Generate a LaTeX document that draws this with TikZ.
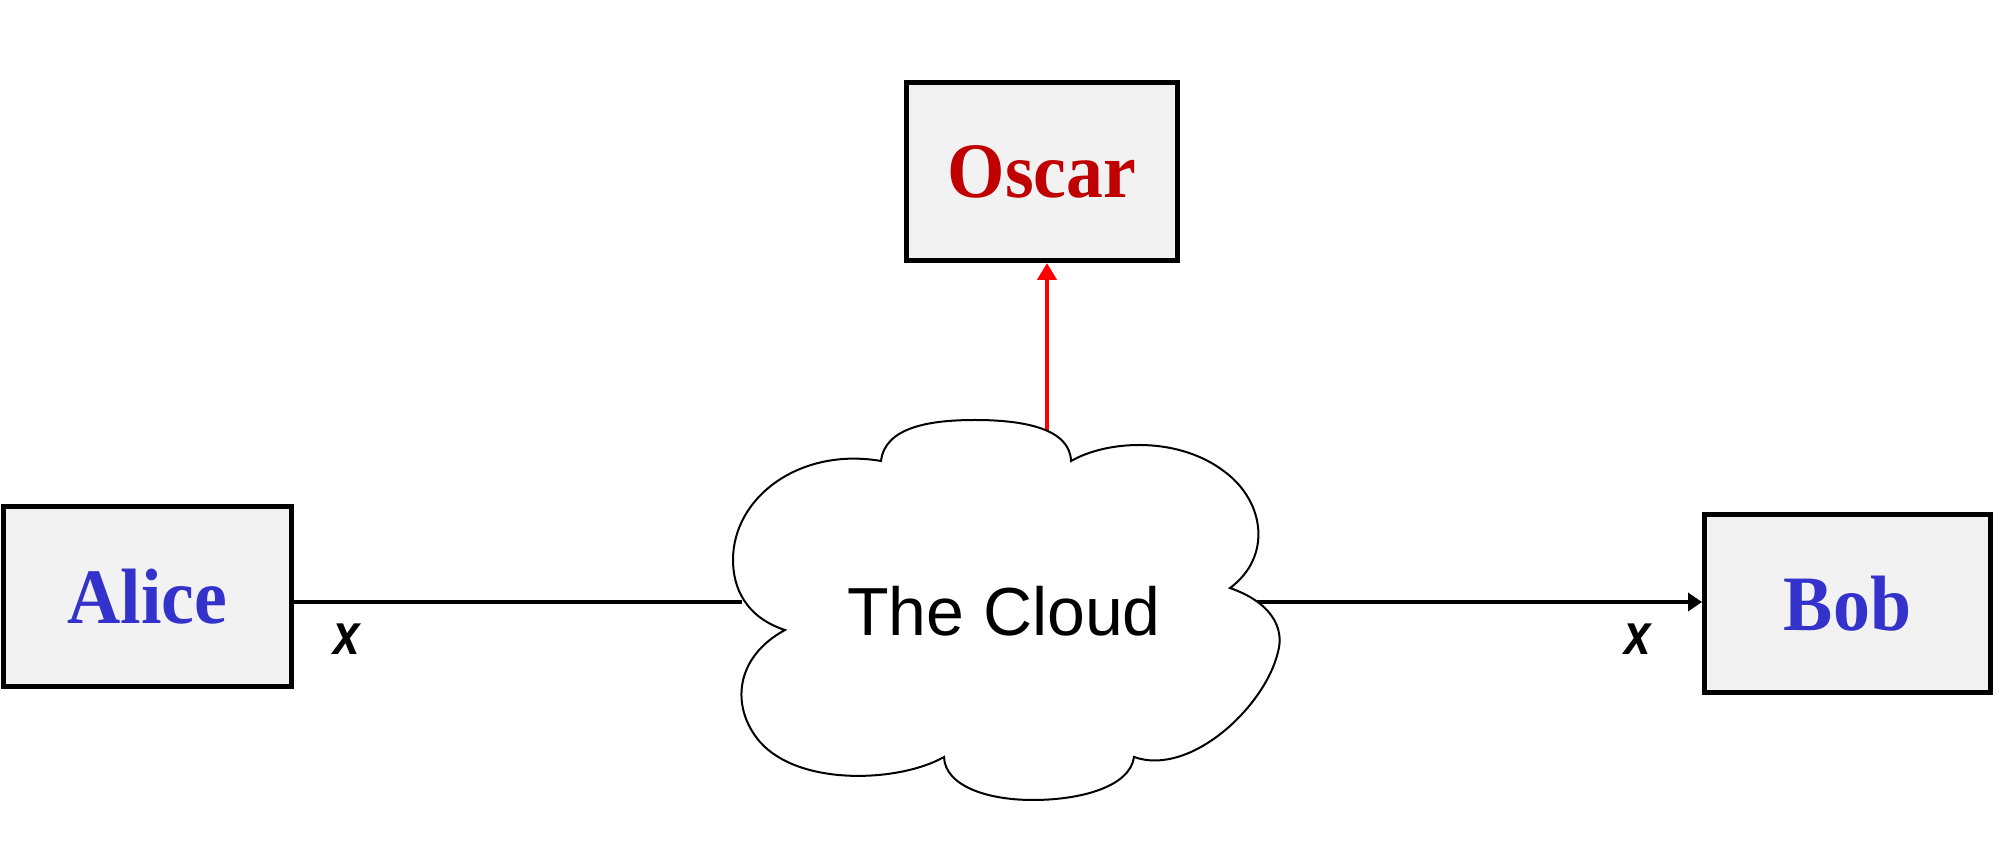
\documentclass[tikz,border=0pt]{standalone}
\usepackage{fontspec}
\setmainfont{Liberation Serif}
\setsansfont{Liberation Sans}
\usetikzlibrary{arrows.meta}
\definecolor{nameblue}{HTML}{3333CC}
\definecolor{namered}{HTML}{C00000}
\definecolor{boxfill}{HTML}{F2F2F2}
\newcommand\squeezetext[1]{\scalebox{0.94}[1]{#1}}
\newcommand\narrowx{\scalebox{0.82}[1]{x}}
\begin{document}
\begin{tikzpicture}[x=1pt,y=1pt,
  party/.style={draw=black, line width=5pt, fill=boxfill, inner sep=0pt,
    font=\fontsize{78.5}{80}\selectfont\bfseries},
  link/.style={line width=4.5pt, black},
  spy/.style={line width=4.5pt, red},
  cloudline/.style={draw=black, line width=2pt, fill=white},
  cloudtext/.style={font=\sffamily\fontsize{68}{70}\selectfont, inner sep=0pt},
  xlab/.style={font=\sffamily\bfseries\itshape\fontsize{58}{60}\selectfont, inner sep=0pt},
]
\useasboundingbox (0,0) rectangle (2008,857);

% parties
\node[party, minimum width=288.5pt, minimum height=180pt, text=nameblue] (alice) at (147.25,260.5) {\squeezetext{Alice}};
\node[party, minimum width=286pt, minimum height=178pt, text=nameblue] (bob) at (1847.5,253.5) {\squeezetext{Bob}};
\node[party, minimum width=271pt, minimum height=178pt, text=namered] (oscar) at (1042,685.5) {\squeezetext{Oscar}};

% connector end points on the cloud outline
\coordinate (cL) at (742,255);
\coordinate (cR) at (1252,255);
\coordinate (cT) at (1047,425);

\draw[link] (alice.east |- cL) -- (cL);
\draw[link, -{Triangle[length=14pt,width=18pt]}] (cR) -- (bob.west |- cR);
\draw[spy, -{Triangle[length=17pt,width=19pt]}] (cT) -- (cT |- oscar.south);

% cloud outline
\path[cloudline]
  (785,227) .. controls (745,240) and (733,270) .. (733,297)
  .. controls (733,360) and (800,410) .. (881,396)
  .. controls (885,430) and (930,437) .. (975,437)
  .. controls (1025,437) and (1070,428) .. (1071,396)
  .. controls (1110,418) and (1180,420) .. (1225,385)
  .. controls (1265,355) and (1272,300) .. (1230,269)
  .. controls (1270,255) and (1285,230) .. (1278,205)
  .. controls (1265,150) and (1190,80) .. (1134,100)
  .. controls (1130,70) and (1080,57) .. (1033,57)
  .. controls (985,57) and (945,72) .. (944,100)
  .. controls (900,75) and (800,70) .. (760,115)
  .. controls (730,150) and (735,200) .. (785,227)
  -- cycle;
\node[cloudtext] (cloud) at (1004,246) {The Cloud};

% labels
\node[xlab] (xL) at (347,218) {\narrowx};
\node[xlab] (xR) at (1638,218) {\narrowx};
\end{tikzpicture}
\end{document}
